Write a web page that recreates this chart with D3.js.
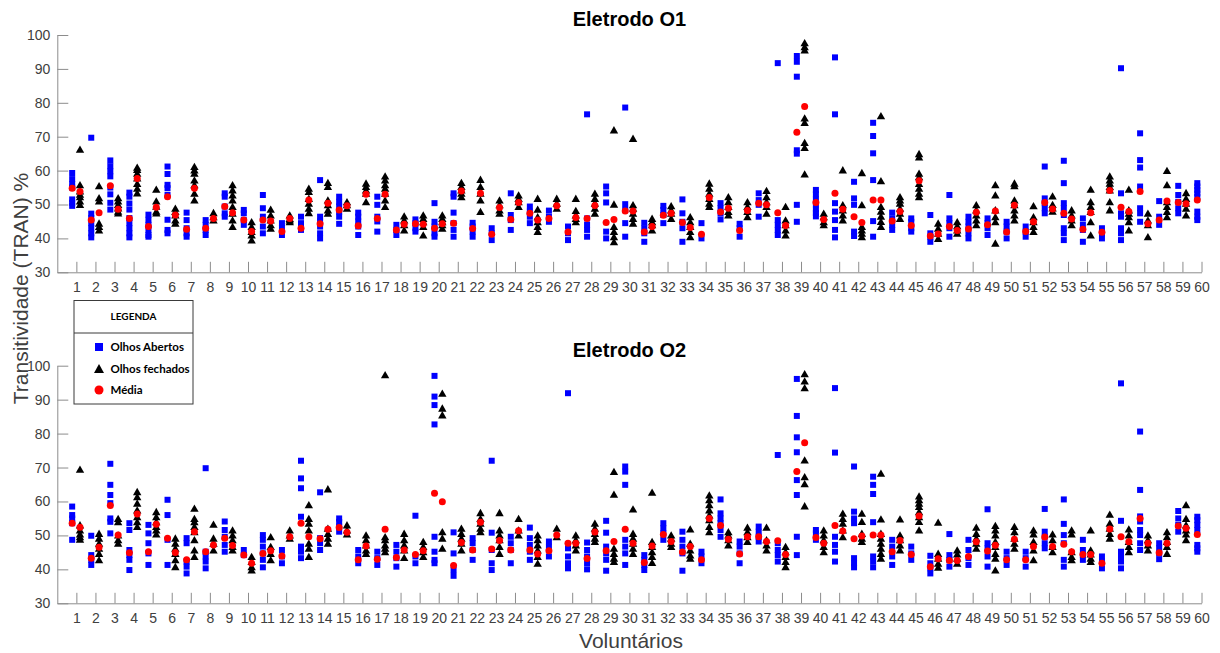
<!DOCTYPE html>
<html>
<head>
<meta charset="utf-8">
<script src="https://cdn.jsdelivr.net/npm/d3@7"></script>
<style>
  body { margin: 0; background: #fff; }
  svg { display: block; }
  .axis text { font-family: "Liberation Sans", Arial, sans-serif; font-size: 14px; fill: #404040; }
  .axis path, .axis line { stroke: #8c8c8c; }
</style>
</head>
<body>
<svg id="chart" width="1220" height="653"></svg>
<script>
// Voluntários (eixo x) e marcas do eixo y
const voluntarios = d3.range(1, 61);
const yTicks = [30, 40, 50, 60, 70, 80, 90, 100];

// ---------- Eletrodo O1 ----------
const o1Abertos = [
  [59.3, 57.5, 56, 55, 51.5, 50.5, 49.6], [69.7, 47.3, 46, 44.5, 43, 41.5, 40.3],
  [63, 61.3, 59.8, 58.3, 55, 53, 50.5, 48.5], [53.5, 52.3, 50.3, 48.5, 46, 44.5, 43, 41.5, 40.3],
  [47, 45.5, 44, 42.5, 41, 40.5], [61.2, 59, 55.8, 54.8, 52.8, 45.5, 42.5, 41.5],
  [47.6, 45.4, 43, 41.5, 40.5], [45.4, 44, 42.5, 41],
  [53.3, 52.3, 49.4, 47.4, 46.4], [48.4, 47.4, 45.4, 44],
  [52.8, 48.9, 46.4, 43.5, 41.5], [44.5, 43, 41],
  [46.4, 44.5, 42.5], [57.2, 46.4, 45, 43.5, 41.5, 40],
  [52.3, 50.8, 49.4, 47.9, 46.4, 44.3], [47.6, 46.4, 45, 43.5, 41],
  [52.3, 49.9, 46.4, 45, 42], [44, 42.5, 41],
  [45.6, 44.5, 43, 42], [50.4, 44.9, 43.5, 41.5, 40.5],
  [53.3, 52.3, 47.6, 44.5, 42.5, 40.5], [44.6, 43.5, 42, 40.5],
  [43, 41.5, 39.5], [53.3, 46.9, 45.4, 42.5],
  [49.4, 47.9, 46.4, 44.5], [48.2, 46.4, 44.9],
  [43.5, 41.5, 39.5], [76.6, 45.9, 44, 42.5, 40.5],
  [55.3, 53.3, 50.6, 42, 40], [78.6, 50.1, 48.4, 44.5, 40.5],
  [44.6, 43, 41.5, 39], [49.6, 48.4, 46.9, 44.5],
  [51.5, 47.4, 44.9, 43, 39], [44.5, 40],
  [50.4, 48.9, 47.4, 45.6], [44.3, 43, 40.5],
  [53.3, 51.3, 49.9, 46.4], [91.7, 45.4, 44, 42.5, 41],
  [93.8, 92.1, 87.7, 66, 65, 49.9, 44.9], [54.3, 53, 51.5, 50, 48.5, 47.5, 46.5],
  [93.4, 76.6, 50.4, 47.9, 45.4, 42.5, 40.3], [56.7, 51.8, 49.9, 42, 40.7],
  [74.1, 70.2, 65.1, 57.2, 45.1, 40.5], [47.6, 45.9, 44, 42.5],
  [45.9, 44.9, 43, 42], [46.9, 41.5, 40.5, 39],
  [52.8, 45.9, 44.5, 43, 40.5], [46.4, 44.9, 43.5, 41.5, 40],
  [45.9, 44.5, 43, 41], [44.9, 43.5, 42, 40],
  [43.5, 42, 40.5], [61.2, 51.8, 50.4, 48.9, 47.4],
  [62.9, 56.3, 50.4, 48.9, 46.9, 43, 41.5, 39.5], [45.9, 44, 42.5, 39],
  [43, 41.5, 40], [90.2, 53.3, 47.4, 46.4, 43, 41.5, 39.5],
  [71, 63.1, 60.9, 55.3, 48.9, 47.4, 44.9], [51, 46.4, 44],
  [55.5, 52.8, 50.8, 48.9, 47.4], [56.3, 55.3, 54.3, 53.3, 52.3, 47.9, 46.4, 45.4]
];
const o1Fechados = [
  [66.3, 55.8, 54, 53, 52.3, 51, 50], [55.5, 52, 51, 44.5, 43.5, 42.5],
  [52, 51, 50, 49, 48, 47.5], [61, 60.3, 59.2, 57.8, 56.2, 54.8, 53.4],
  [54.5, 51, 49.5, 48, 47.5], [48.9, 47.9, 46.9, 45.4, 44.5],
  [61.2, 60.2, 59.2, 57.2, 55.8, 53.3, 51.3], [47.6, 46.4, 45.4],
  [55.8, 54.3, 52.8, 51.3, 49.4, 47.4, 45.4, 43.5], [44.9, 43.5, 42, 41, 39.5],
  [48.6, 46.9, 45.4, 44, 43], [46.9, 45.9, 45.4, 44.9],
  [54.8, 53.8, 51.8, 50.4, 48.9, 47.6], [56.5, 55.3, 51.3, 49.9, 48.4, 47.4],
  [50.8, 49.9, 48.9], [56.3, 55.3, 54.3, 53.3, 50.8],
  [58.4, 57.2, 55.8, 54.8, 53.3, 51.3, 49.4], [46.6, 45.4, 44, 42.5],
  [46.9, 45.9, 44.9, 43.5, 41], [46.9, 45.9, 44.9, 44, 43],
  [56.5, 55.3, 54.3, 53.3, 52.3], [57.4, 55.3, 53.3, 51.3, 47.9],
  [51.3, 49.9, 48.4, 47.4], [52.8, 51.8, 50.8, 49.4],
  [51.8, 48.6, 46.4, 44.9, 43.5, 42], [51.8, 50.4, 48.9],
  [51.8, 48.2, 46.9, 45.9, 44.9], [53.3, 51.8, 50.4, 48.9, 47.4],
  [72, 50.1, 43.5, 42, 40.5, 39], [69.5, 49.9, 48.9, 47.4, 45.9, 44.5],
  [45.9, 44.9, 44, 42.5], [49.6, 48.4, 47.4, 45.9],
  [46.4, 44.9, 43.5, 42, 40.5], [56.3, 54.8, 53.3, 51.8, 50.4, 49.4],
  [52.3, 50.8, 49.4, 47.9, 46.9], [50.8, 49.4, 47.9, 46.4],
  [54.1, 52.3, 50.8, 49.4, 47.4], [49.4, 45.4, 44, 42.5, 41],
  [97.7, 96.5, 95.6, 75.5, 74.2, 68.3, 66.8, 59], [47.4, 46.4, 44.9, 44],
  [60.2, 49.9, 48.4, 46.9, 45.4], [59.4, 49.9, 43.5, 42.5, 41.5, 40.5],
  [76.2, 57, 49.4, 48, 46.5, 45, 43.5], [52.3, 51.3, 50.4, 48.9, 47.4, 45.9],
  [65, 64, 59.2, 58.2, 56.2, 54.8, 53.3, 52.3], [44.5, 43, 41.5, 40],
  [44.9, 43.7, 42.5, 41.5], [49.9, 48.4, 46.9, 45.4, 44],
  [55.8, 52.8, 48.4, 46.4, 44.9, 38.6], [56.3, 55.5, 51.3, 49.9, 48.4, 46.9, 45.4],
  [49.6, 46.4, 44.9, 43.5, 42], [52.5, 50, 49, 48],
  [48.4, 46.9, 45.4, 44], [54.5, 50.8, 49.4, 47.9, 44.9, 41],
  [58.4, 57.2, 56.3, 55.3, 54.3, 50.8, 48.4], [54.5, 48.4, 47.4, 46.4, 44.9, 42.5],
  [47.4, 45.4, 44, 40.5], [60, 55.8, 50.8, 49.4, 47.9, 46.4],
  [53.5, 51.8, 50.4, 48.9, 46.9], []
];
const o1MediaAbertos = [
  54.8, 45.4, 55.5, 45.9, 43.5, 52.3, 42.7, 43, 49.4, 45.4,
  45.4, 42, 43, 44.3, 48.4, 43.7, 45.9, 42.5, 44.3, 43,
  44.5, 42.9, 41.2, 45.6, 47.4, 45.9, 41.9, 45.9, 44.7, 48.1,
  41.9, 46.8, 44.7, 41.2, 47.8, 42.3, 50.4, 47.6, 71.3, 50.6,
  53.3, 46.4, 51.3, 45.1, 43.8, 40.7, 43.5, 42.8, 44, 41.9,
  42, 50.6, 47.4, 42.7, 41.8, 49.2, 53.8, 45.4, 50.6, 51.3
];
const o1MediaFechados = [
  53.8, 47.6, 48.6, 57.7, 49.2, 46.9, 54.8, 45.9, 47.6, 42,
  45.1, 45.9, 51.3, 50.4, 49.6, 53, 53, 44.2, 44.2, 44.3,
  54, 53.3, 49.1, 50.6, 45.4, 49.6, 46.2, 49.7, 45.6, 48.1,
  43.5, 47.4, 43.2, 52.1, 48.9, 48.2, 49.9, 43.8, 78.9, 45.6,
  48.6, 44.7, 51.3, 47.9, 57, 41.3, 42.3, 47.7, 48.1, 49.8,
  44.9, 48.7, 45.7, 47.6, 54.1, 47.9, 44.3, 51, 50.2, null
];

// ---------- Eletrodo O2 ----------
const o2Abertos = [
  [58.5, 56, 55, 53.6, 48.7], [49.9, 44.2, 42.8, 41.3],
  [71.1, 64.9, 61.9, 59.5, 55, 54, 50.6], [53.6, 51.6, 45.7, 44.2, 42.8, 39.8],
  [53.1, 50.6, 47.7, 44.7, 41.3], [60.5, 56, 48.7, 41.3],
  [49.2, 47.7, 42.3, 40.8, 38.8], [69.8, 45.2, 43.8, 42.3, 40.3],
  [54.1, 51.6, 49.6, 47.2, 45.2], [45.7, 44.2],
  [50.1, 48.7, 46.7, 44.7, 42.8, 40.6], [45.7, 43.8, 41.8],
  [72, 66.8, 63.9, 55.5, 46.7, 45.2, 43.3], [62.7, 49.2, 47.7, 45.7],
  [55, 54, 52.6, 51.1], [45.7, 43.8, 41.8],
  [45.2, 43.3, 41.3], [47.2, 45.2, 43.3, 40.8],
  [55.8, 43.8, 41.8], [97, 90.9, 88.4, 82.7, 49.6, 45.2, 42.8, 41.8],
  [50.9, 44.7, 39.8, 38.1], [49.2, 47.7, 45.7, 42.8],
  [72, 50.8, 45.7, 41.8, 39.8], [49.6, 47.7, 45.7, 41.8],
  [52.3, 49.2, 47.2, 45.2, 42.8], [48.2, 46.7, 43.8],
  [91.9, 46.2, 43.8, 41.8, 40.3], [47.9, 45.7, 43.8, 41.8, 40],
  [54.3, 50.8, 46.7, 44.7, 42.8, 39.6], [70.3, 68.8, 64.9, 48.7, 46.7, 44.7, 41.3],
  [44.2, 42.8, 41.3, 39.8], [53.6, 52.1, 50.6, 48.7],
  [51.1, 48.7, 46.7, 44.7, 39.6], [45.2, 43.8, 41.8],
  [60.6, 56.5, 55, 53.6, 51.6, 49.6], [48.2, 46.7, 44.7, 41.8],
  [52.6, 51.1, 49.6, 48.2], [73.7, 47.7, 45.7, 44.2, 42.3],
  [96.1, 85.2, 78.9, 74.5, 66.3, 61.9, 49.6, 44.2], [51.6, 50.6, 48.7],
  [93.4, 74.4, 49.6, 47.2, 45.2, 42.3], [70.3, 57, 55, 53.6, 43.3, 41.8, 40.6],
  [67.3, 64.9, 62.2, 53.9, 43.8, 42.3, 40.6], [48.7, 46.7, 43.8, 41.3],
  [46.7, 44.7, 42.8], [44, 41.8, 40.3, 38.8],
  [50.4, 44.2, 42.8, 40.8], [48.7, 45.7, 43.3, 41.3],
  [57.7, 47.7, 46.2, 43.8, 40.8], [45.2, 43.3, 41.3],
  [45.2, 43.3, 40.8], [57.8, 51.1, 49.6, 47.7, 46.2],
  [60.6, 53.4, 50.1, 47.7, 42.8, 40.8], [48.7, 45.7, 44.2, 42.8],
  [43.8, 42.3, 40.3], [94.8, 54.3, 45.2, 43.8, 42.3, 40.3],
  [80.6, 63.4, 55.6, 54.1, 51.6, 50.1, 47.7, 45.7], [47.7, 46.2, 44.7, 43],
  [57.2, 55, 53.1, 51.1], [55.5, 54.5, 53.1, 51.6, 47.2, 46.2, 45.2]
];
const o2Fechados = [
  [69.5, 53.1, 51.6, 50.4, 49.6, 48.9], [50.6, 49.2, 47.7, 46.2, 44.7, 42.8],
  [55, 54, 50.1, 48.7, 47.7], [62.9, 61.4, 59.5, 57.5, 55.5, 54, 52.6],
  [57, 55.5, 54, 52.6, 51.6, 50.4], [49.2, 47.7, 46.2, 44.7, 42.8, 40.8],
  [58, 55, 54, 52.6, 51.1, 48.7, 45.7, 43.8], [53.3, 49.2, 47.7, 45.7],
  [51.6, 50.1, 48.7, 46.7, 45.7], [43.8, 42.3, 40.8, 39.8],
  [49.6, 46.7, 44.7, 42.8], [51.6, 50.1, 49.2],
  [59, 55, 53.6, 51.6, 47.7, 46.2, 43.8], [63.7, 52.1, 50.6, 49.2, 47.7],
  [53.1, 51.6, 50.4], [50.1, 48.7, 47.2, 45.7, 44.7],
  [97.3, 49.6, 48.7, 47.2, 46.2, 45.2], [50.6, 48.7, 47.2, 45.7, 43.5],
  [48.2, 46.7, 45.2, 43.8], [91.9, 87.5, 85.5, 51.1, 49.2, 46.2],
  [52.1, 50.6, 49.2, 47.7, 45.7], [56.7, 55, 53.6, 52.1, 51.1],
  [56.7, 51.6, 50.1, 48.7, 46.7, 44.7], [55, 51.6, 50.1],
  [50.1, 48.7, 47.2, 45.7, 43.8, 41.8], [52.1, 49.6],
  [50.1, 48.7, 47.2, 45.7], [53.6, 52.1, 50.6, 49.2, 48.2],
  [68.8, 62.1, 46.2, 44.7, 43.3, 42.3], [57.8, 50.6, 49.2, 47.7, 46.2, 44.7],
  [62.7, 48.2, 46.7, 45.2, 43.8, 42], [50.1, 49.2, 47.7, 46.7],
  [51.9, 47.7, 45.7, 44.2, 43.3], [61.9, 60.5, 59, 57.5, 56, 54.6, 52.6, 51.1],
  [51.1, 50.1, 48.7, 47.2], [52.4, 51.1, 49.6, 48.2],
  [52.4, 48.7, 47.2, 45.7], [46.7, 45.2, 43.8, 42.3, 40.8],
  [97.6, 95.5, 93.5, 72.2, 67.3, 65.2, 58.7], [51.6, 50.1, 48.7, 46.7, 45.2],
  [56.5, 55, 53.6, 51.6, 49.6], [56.5, 54.1, 50.6, 49.2, 48.2],
  [68.3, 54.8, 50.6, 49.2, 47.7, 46.2, 44.7, 43.3], [54.8, 50.1, 48.7, 47.2, 45.7],
  [61.6, 60.5, 59.5, 58.5, 57, 55.5, 54.1, 51.6], [53.9, 44.7, 43.3, 41.8, 40.6],
  [45.7, 44.5, 43.3, 41.8], [52.4, 50.6, 49.2, 47.7, 46.2],
  [52.9, 51.6, 50.1, 48.2, 46.7, 44.7, 43.3, 39.8], [52.6, 51.1, 49.2, 47.7, 46.2],
  [51.6, 50.4, 48.2, 45.7, 42.8], [50.4, 48.7, 46.7, 45.2],
  [51.6, 50.4, 45.2, 43.8, 42.8], [51.6, 45.7, 44.5, 43.3, 42.3],
  [56.2, 53.6, 52.1, 50.6, 49.2], [51.9, 50.1, 48.2, 46.7, 45.2],
  [50.1, 48.7, 47.2, 45.7], [51.1, 49.6, 48.2, 46.7, 44.7],
  [59, 55, 53.1, 51.6, 50.4, 48.7], []
];
const o2MediaAbertos = [
  53.6, 43.3, 58.8, 44.9, 45.2, 49.2, 42.8, 45.2, 49.2, 44.2,
  44.7, 43.9, 53.6, 49, 52.3, 42.8, 43, 43.5, 44.4, 62.4,
  41.1, 45.7, 46, 45.7, 45.7, 45.5, 47.7, 43.2, 45.5, 51.8,
  42, 50.3, 45.1, 42.8, 52.9, 44.5, 49.6, 48.4, 68.8, 49.4,
  52.9, 49, 50.1, 45.2, 44.4, 40.8, 42.6, 43.8, 45.4, 42.8,
  42.8, 49.5, 47.4, 44.4, 41.8, 49.6, 55, 44.9, 52.8, 50.3
];
const o2MediaFechados = [
  52.4, 46.5, 50.1, 56.3, 53.3, 45, 51.1, 47.2, 47, 41.8,
  45.5, 49.6, 49.6, 51.8, 50.9, 46.9, 51.8, 45.7, 45.5, 59.9,
  47.9, 53.9, 48.5, 51.4, 44.5, 50.1, 47.7, 51, 48.2, 47.7,
  46.9, 48.2, 46.7, 55, 48.9, 49.6, 48.2, 44.4, 77.3, 47.7,
  51.3, 49.8, 50.1, 48.5, 55.7, 43.1, 42.6, 48.1, 47.1, 48.9,
  46.7, 46.7, 45.2, 44.4, 51.9, 48.1, 47.7, 47.7, 52.1, null
];

// ---------- Desenho ----------
const svg = d3.select('#chart');
const x = d3.scaleLinear().domain([0, 60]).range([57.3, 1201.5]);
const offAbertos = -0.22, offFechados = 0.19;

const squarePath = 'M-3,-3H3V3H-3Z';
const trianglePath = 'M0,-3.8L4.2,3.5L-4.2,3.5Z';
const circlePath = d3.symbol(d3.symbolCircle, Math.PI * 3.5 * 3.5)();

const panels = [
  { title: 'Eletrodo O1', top: 35, bottom: 272.3,
    abertos: o1Abertos, fechados: o1Fechados, mA: o1MediaAbertos, mF: o1MediaFechados },
  { title: 'Eletrodo O2', top: 365.7, bottom: 603.3,
    abertos: o2Abertos, fechados: o2Fechados, mA: o2MediaAbertos, mF: o2MediaFechados }
];

function flatten(groups, off) {
  const out = [];
  groups.forEach((vals, i) => vals.forEach(v => out.push({ x: voluntarios[i] + off, v })));
  return out.filter(d => d.x <= 60);
}

panels.forEach(p => {
  const y = d3.scaleLinear().domain([30, 100]).range([p.bottom, p.top]);
  const g = svg.append('g');

  g.append('g').attr('class', 'axis')
    .attr('transform', `translate(0,${p.bottom})`)
    .call(d3.axisBottom(x).tickValues(voluntarios).tickFormat(d3.format('d'))
      .tickSize(-10.5).tickSizeOuter(0).tickPadding(10));

  g.append('g').attr('class', 'axis')
    .attr('transform', `translate(${x.range()[0]},0)`)
    .call(d3.axisLeft(y).tickValues(yTicks).tickFormat(d3.format('d'))
      .tickSize(-11).tickSizeOuter(0).tickPadding(7));

  g.append('text')
    .attr('x', (x.range()[0] + x.range()[1]) / 2)
    .attr('y', p.top - 9)
    .attr('text-anchor', 'middle')
    .style('font-family', '"Liberation Sans", Arial, sans-serif')
    .style('font-size', '20px').style('font-weight', 'bold').style('fill', '#000')
    .text(p.title);

  const marks = g.append('g');
  marks.selectAll('path.abertos').data(flatten(p.abertos, offAbertos)).join('path')
    .attr('class', 'abertos').attr('d', squarePath)
    .attr('transform', d => `translate(${x(d.x)},${y(d.v)})`)
    .attr('fill', '#0000ff');

  marks.selectAll('path.fechados').data(flatten(p.fechados, offFechados)).join('path')
    .attr('class', 'fechados').attr('d', trianglePath)
    .attr('transform', d => `translate(${x(d.x)},${y(d.v)})`)
    .attr('fill', '#000');

  const medias = [];
  p.mA.forEach((v, i) => { if (v != null) medias.push({ x: voluntarios[i] + offAbertos, v }); });
  p.mF.forEach((v, i) => { if (v != null) medias.push({ x: voluntarios[i] + offFechados, v }); });
  marks.selectAll('path.media').data(medias.filter(d => d.x <= 60)).join('path')
    .attr('class', 'media').attr('d', circlePath)
    .attr('transform', d => `translate(${x(d.x)},${y(d.v)})`)
    .attr('fill', '#ff0000');
});

// Rótulos dos eixos
svg.append('text')
  .attr('transform', 'translate(28,288.5) rotate(-90)')
  .attr('text-anchor', 'middle')
  .style('font-family', '"Liberation Sans", Arial, sans-serif')
  .style('font-size', '21px').style('fill', '#404040')
  .text('Transitividade (TRAN) %');

svg.append('text')
  .attr('x', 631).attr('y', 647.5)
  .attr('text-anchor', 'middle')
  .style('font-family', '"Liberation Sans", Arial, sans-serif')
  .style('font-size', '21px').style('fill', '#404040')
  .text('Voluntários');

// Legenda
const leg = svg.append('g').attr('transform', 'translate(74,300.5)');
leg.append('rect').attr('width', 119).attr('height', 103.5)
  .attr('fill', '#fff').attr('stroke', '#3a3a3a').attr('stroke-width', 1);
leg.append('line').attr('x1', 0).attr('x2', 119).attr('y1', 32.5).attr('y2', 32.5)
  .attr('stroke', '#3a3a3a');
const legFont = 'Lato, "Open Sans", sans-serif';
leg.append('text').attr('x', 59.5).attr('y', 19)
  .attr('text-anchor', 'middle')
  .style('font-family', legFont).style('font-weight', 'bold').style('font-size', '10px')
  .style('fill', '#000').text('LEGENDA');

const legItems = [
  { label: 'Olhos Abertos', d: 'M-4,-4H4V4H-4Z', fill: '#0000ff', cy: 46.5 },
  { label: 'Olhos fechados', d: 'M0,-5L5,4L-5,4Z', fill: '#000', cy: 68.5 },
  { label: 'Média', d: d3.symbol(d3.symbolCircle, Math.PI * 4.5 * 4.5)(), fill: '#ff0000', cy: 89.5 }
];
legItems.forEach(it => {
  leg.append('path').attr('d', it.d).attr('fill', it.fill)
    .attr('transform', `translate(25,${it.cy})`);
  leg.append('text').attr('x', 36.5).attr('y', it.cy + 4)
    .style('font-family', legFont).style('font-weight', 'bold').style('font-size', '11.5px')
    .style('fill', '#000').text(it.label);
});
</script>
</body>
</html>
